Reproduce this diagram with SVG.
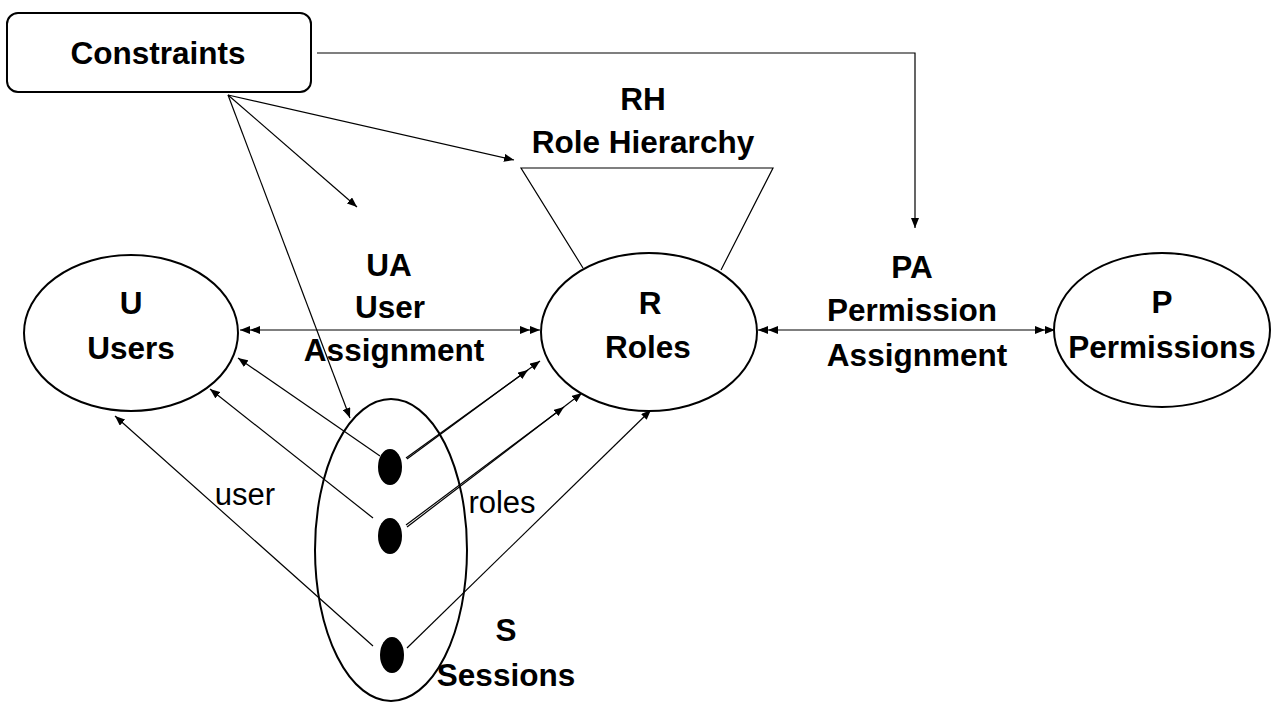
<svg xmlns="http://www.w3.org/2000/svg" width="1280" height="720" viewBox="0 0 1280 720">
<defs>
<style>
.b{font-family:"Liberation Sans",Arial,sans-serif;font-weight:bold;font-size:31.5px;text-anchor:middle;fill:#000}
.n{font-family:"Liberation Sans",Arial,sans-serif;font-size:31px;text-anchor:middle;fill:#000}
.shape{fill:#fff;stroke:#000;stroke-width:2}
.ln{fill:none;stroke:#000;stroke-width:1.2}
.dot{fill:#000}
</style>
<marker id="a" viewBox="0 0 10 8" refX="10" refY="4" markerWidth="10" markerHeight="8" markerUnits="userSpaceOnUse" orient="auto">
<path d="M0,0 L10,4 L0,8 Z" fill="#000"/>
</marker>
<marker id="aa" viewBox="0 0 20 8" refX="20" refY="4" markerWidth="20" markerHeight="8" markerUnits="userSpaceOnUse" orient="auto-start-reverse">
<path d="M0,0 L10,4 L0,8 Z M10,0 L20,4 L10,8 Z" fill="#000"/>
</marker>
</defs>
<rect width="1280" height="720" fill="#fff"/>
<g id="connectors">
<polyline class="ln" points="317,53 915,53 915,228" marker-end="url(#a)"/>
<line class="ln" x1="228" y1="95" x2="514" y2="160" marker-end="url(#a)"/>
<line class="ln" x1="228" y1="95" x2="357" y2="207" marker-end="url(#a)"/>
<line class="ln" x1="228" y1="95" x2="350" y2="418" marker-end="url(#a)"/>
<line class="ln" x1="240" y1="330" x2="540" y2="330" marker-start="url(#aa)" marker-end="url(#aa)"/>
<line class="ln" x1="758" y1="330" x2="1055" y2="330" marker-start="url(#aa)" marker-end="url(#aa)"/>
<line class="ln" x1="380" y1="456" x2="238" y2="358" marker-end="url(#a)"/>
<line class="ln" x1="373" y1="518" x2="210" y2="389" marker-end="url(#a)"/>
<line class="ln" x1="373" y1="646" x2="115" y2="416" marker-end="url(#a)"/>
<line class="ln" x1="406" y1="458" x2="528" y2="370" marker-end="url(#a)"/>
<line class="ln" x1="407" y1="459" x2="540" y2="361" marker-end="url(#a)"/>
<line class="ln" x1="406" y1="525" x2="564" y2="407" marker-end="url(#a)"/>
<line class="ln" x1="407" y1="527" x2="582" y2="393" marker-end="url(#a)"/>
<line class="ln" x1="407" y1="648" x2="651" y2="410" marker-end="url(#a)"/>
<polyline class="ln" points="583,268 521,168 773,168 721,270"/>
</g>
<g id="constraints">
<rect class="shape" x="7" y="13" width="304" height="79" rx="11"/>
<text class="b" x="158" y="64">Constraints</text>
</g>
<g id="rh">
<text class="b" x="643" y="110">RH</text>
<text class="b" x="643" y="153">Role Hierarchy</text>
</g>
<g id="users">
<ellipse class="shape" cx="131" cy="333" rx="107" ry="78"/>
<text class="b" x="131" y="314">U</text>
<text class="b" x="131" y="359">Users</text>
</g>
<g id="ua">
<text class="b" x="389" y="276">UA</text>
<text class="b" x="390" y="318">User</text>
<text class="b" x="394" y="361">Assignment</text>
</g>
<g id="roles">
<ellipse class="shape" cx="649" cy="332" rx="108" ry="79"/>
<text class="b" x="650" y="314">R</text>
<text class="b" x="648" y="358">Roles</text>
</g>
<g id="pa">
<text class="b" x="912" y="278">PA</text>
<text class="b" x="912" y="321">Permission</text>
<text class="b" x="917" y="366">Assignment</text>
</g>
<g id="permissions">
<ellipse class="shape" cx="1162" cy="330" rx="108" ry="77"/>
<text class="b" x="1162" y="313">P</text>
<text class="b" x="1162" y="358">Permissions</text>
</g>
<g id="sessions">
<ellipse class="ln" style="stroke-width:2" cx="391" cy="550" rx="76" ry="151"/>
<ellipse class="dot" cx="390" cy="467" rx="12" ry="18"/>
<ellipse class="dot" cx="390" cy="536" rx="12" ry="18"/>
<ellipse class="dot" cx="392" cy="655" rx="12" ry="18"/>
<text class="b" x="506" y="641">S</text>
<text class="b" x="506" y="686">Sessions</text>
</g>
<g id="labels">
<text class="n" x="245" y="505">user</text>
<text class="n" x="502" y="513">roles</text>
</g>
</svg>
